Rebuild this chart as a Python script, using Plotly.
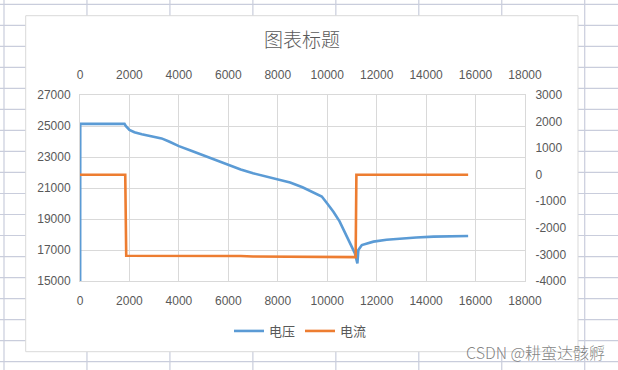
import plotly.graph_objects as go

# ---- data ----
volt_x = [0, 10, 1800, 1850, 2000, 2200, 2500, 3000, 3300, 3600, 4000, 4500, 5000,
          5500, 6000, 6500, 7000, 7500, 8000, 8500, 9000, 9400, 9780, 10000, 10250,
          10500, 10650, 10800, 10990, 11120, 11220, 11260, 11400, 11600, 11870,
          12400, 12950, 13600, 14300, 15000, 15700]
volt_y = [0, 25150, 25140, 25000, 24750, 24600, 24470, 24320, 24200, 24000, 23700,
          23400, 23100, 22800, 22480, 22200, 21950, 21750, 21580, 21350, 21050,
          20750, 20450, 20000, 19470, 18850, 18400, 17850, 17215, 16785, 16140,
          17000, 17320, 17430, 17540, 17660, 17750, 17810, 17860, 17880, 17900]

curr_x = [0, 1830, 1870, 4000, 6500, 7000, 8000, 11150, 11180, 15700]
curr_y = [0, 0, -3050, -3050, -3060, -3080, -3090, -3100, 0, 0]

x_ticks = list(range(0, 18001, 2000))
left_ticks = list(range(15000, 27001, 2000))
right_ticks = list(range(-4000, 3001, 1000))
x_labels = [str(v) for v in x_ticks]
left_labels = [str(v) for v in left_ticks]
right_labels = [str(v) for v in right_ticks]

# ---- layout geometry (pixels) ----
W, H = 618, 370
L, R, T, B = 80, 525, 95, 281
pw, ph = R - L, B - T


def px(x):
    return (x - L) / pw


def py(y):
    return (B - y) / ph


TXT = "#595959"
FONT = "Liberation Sans, Arial, Noto Sans CJK SC, sans-serif"
CJK = "Noto Sans CJK SC, Liberation Sans, sans-serif"
GRID = "#d9d9d9"

fig = go.Figure()
fig.add_trace(go.Scatter(x=volt_x, y=volt_y, name="电压", mode="lines",
                         line=dict(color="#5B9BD5", width=2.6),
                         xaxis="x", yaxis="y"))
fig.add_trace(go.Scatter(x=curr_x, y=curr_y, name="电流", mode="lines",
                         line=dict(color="#ED7D31", width=2.6),
                         xaxis="x2", yaxis="y2"))

# spreadsheet background grid + chart area
shapes = []
SHEET = "#c9cddc"
for k in range(8):
    xx = 4 + 82.96 * k
    shapes.append(dict(type="line", xref="paper", yref="paper", layer="below",
                       x0=px(xx), x1=px(xx), y0=py(-5), y1=py(H + 5),
                       line=dict(color=SHEET, width=1.2)))
for k in range(18):
    yy = 4.3 + 21.02 * k
    shapes.append(dict(type="line", xref="paper", yref="paper", layer="below",
                       x0=px(-5), x1=px(W + 5), y0=py(yy), y1=py(yy),
                       line=dict(color=SHEET, width=1.2)))
shapes.append(dict(type="rect", xref="paper", yref="paper", layer="below",
                   x0=px(25.7), x1=px(578), y0=py(351.7), y1=py(15.7),
                   fillcolor="white", line=dict(color=GRID, width=1)))

axis_common = dict(tickfont=dict(family=FONT, size=12, color=TXT),
                   zeroline=False, ticks="outside", tickcolor="rgba(0,0,0,0)")

fig.update_layout(
    width=W, height=H,
    margin=dict(l=L, r=W - R, t=T, b=H - B),
    paper_bgcolor="white", plot_bgcolor="rgba(0,0,0,0)",
    shapes=shapes,
    showlegend=True,
    title=dict(text="图表标题", x=px(302), xref="paper", xanchor="center",
               y=1 - 40 / H, yref="container", yanchor="middle",
               font=dict(family=CJK, size=19, color=TXT, weight=300)),
    xaxis=dict(range=[0, 18000], tickvals=x_ticks, ticktext=x_labels,
               showgrid=True, gridcolor=GRID,
               gridwidth=1, showline=True, mirror=True, linecolor=GRID,
               ticklen=9, **axis_common),
    xaxis2=dict(range=[0, 18000], tickvals=x_ticks, ticktext=x_labels,
                overlaying="x", side="top",
                anchor="y", showgrid=False, ticklen=10, **axis_common),
    yaxis=dict(range=[15000, 27000], tickvals=left_ticks, ticktext=left_labels,
               showgrid=True,
               gridcolor=GRID, gridwidth=1, showline=True, mirror=True,
               linecolor=GRID, ticklen=6, **axis_common),
    yaxis2=dict(range=[-4000, 3000], tickvals=right_ticks, ticktext=right_labels,
                overlaying="y",
                side="right", anchor="x", showgrid=False, ticklen=7,
                **axis_common),
    legend=dict(orientation="h", x=px(300.5), xanchor="center", y=py(331),
                yanchor="middle", font=dict(family=CJK, size=13, color=TXT),
                itemwidth=30, bgcolor="rgba(0,0,0,0)"),
    annotations=[dict(text="CSDN @耕蛮达骸孵", xref="paper", yref="paper",
                      x=px(607), xanchor="right", y=py(352), yanchor="middle",
                      showarrow=False,
                      font=dict(family=CJK, size=16, color="rgba(110,110,110,0.85)",
                                weight=300))],
)

fig.write_html("out.html")
